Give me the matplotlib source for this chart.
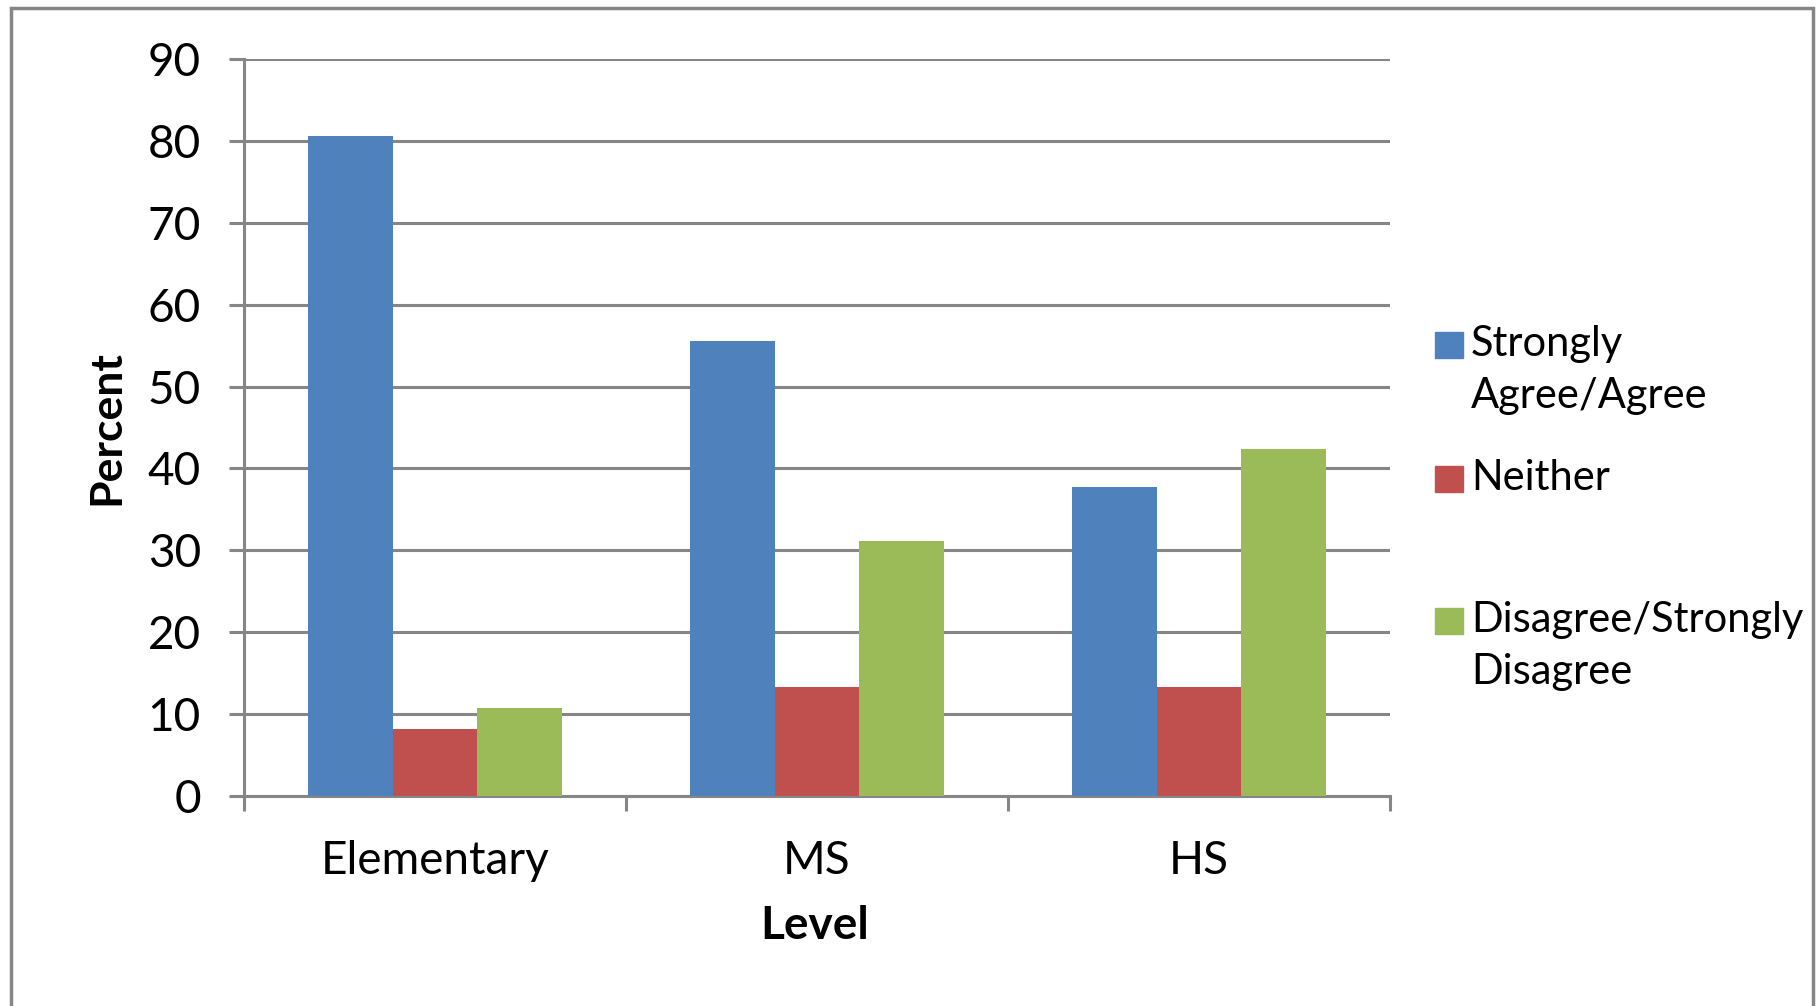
import matplotlib.pyplot as plt
from matplotlib.patches import Rectangle
import numpy as np

LEVELS = ['Elementary', 'MS', 'HS']
SERIES = ['Strongly\nAgree/Agree', 'Neither', 'Disagree/Strongly\nDisagree']
AGREE = [80.6, 55.6, 37.7]
NEITHER = [8.2, 13.3, 13.3]
DISAGREE = [10.7, 31.2, 42.4]
COLORS = ['#4F81BD', '#C0504D', '#9BBB59']
GRID = '#868686'

plt.rcParams['font.family'] = ['Lato', 'DejaVu Sans']

fig = plt.figure(figsize=(18.19, 10.06), dpi=100)
ax = fig.add_axes([244 / 1819, 1 - 796 / 1006, (1390 - 244) / 1819, (796 - 59) / 1006])

x = np.arange(len(LEVELS))
w = 1 / 4.5  # excel gap width 150%
for i, vals in enumerate([AGREE, NEITHER, DISAGREE]):
    ax.bar(x + (i - 1) * w, vals, width=w, color=COLORS[i], zorder=3)

ax.set_xlim(-0.5, 2.5)
ax.set_ylim(0, 90)
ax.set_yticks(range(0, 91, 10))
ax.yaxis.grid(True, color=GRID, linewidth=2.2, zorder=0)
ax.set_axisbelow(True)

# category ticks sit between the groups
ax.set_xticks([-0.5, 0.5, 1.5, 2.5])
ax.set_xticklabels([])
ax.set_xticks(x, minor=True)
ax.set_xticklabels(LEVELS, minor=True, fontsize=33)
ax.tick_params(axis='x', which='major', length=11, width=2.2, color=GRID, direction='out')
ax.tick_params(axis='x', which='minor', length=0, pad=32)
ax.tick_params(axis='y', length=11, width=2.2, color=GRID, direction='out', labelsize=33, pad=20)

for s in ['top', 'right']:
    ax.spines[s].set_visible(False)
for s in ['left', 'bottom']:
    ax.spines[s].set_color(GRID)
    ax.spines[s].set_linewidth(2.2)

ax.set_ylabel('Percent', fontsize=32, fontweight='bold', va='center')
ax.yaxis.set_label_coords(-0.12, 0.5)
ax.set_xlabel('Level', fontsize=33, fontweight='bold', va='center')
ax.xaxis.set_label_coords(0.498, -0.176)

# legend, excel style: square lined up with the first line of each label
leg_y = [345, 479, 621]
for i, lab in enumerate(SERIES):
    yc = 1 - leg_y[i] / 1006
    fig.patches.append(Rectangle((1435 / 1819, yc - 13 / 1006), 28 / 1819, 26 / 1006,
                                 transform=fig.transFigure, color=COLORS[i]))
    fig.text(1471 / 1819, yc + 20 / 1006, lab, fontsize=30, va='top', ha='left',
             linespacing=1.45)

# outer chart border
fig.patches.append(Rectangle((11 / 1819, -0.05), (1813 - 11) / 1819, 1.05 - 8 / 1006,
                             transform=fig.transFigure, fill=False, edgecolor=GRID,
                             linewidth=2.5))

fig.savefig('out.png', dpi=100)
